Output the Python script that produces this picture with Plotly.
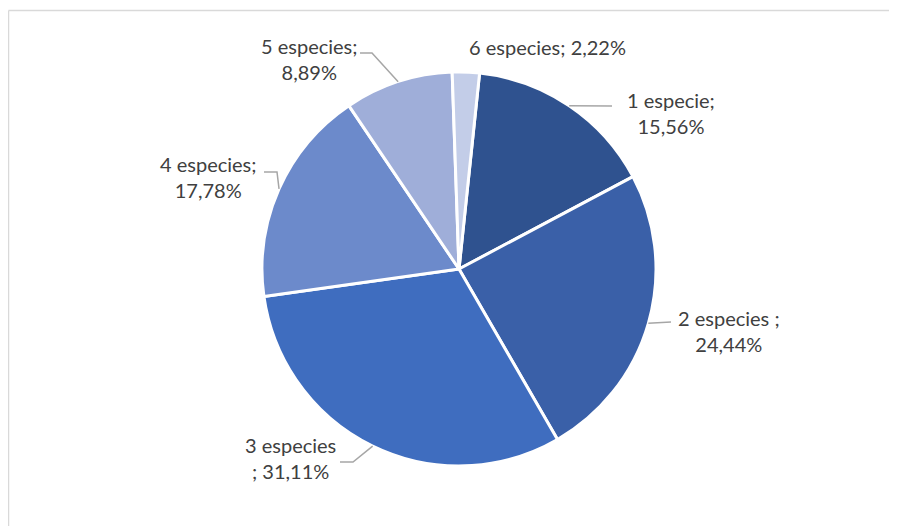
import math
import plotly.graph_objects as go

# ---- data ----
categories = ["1 especie", "2 especies", "3 especies", "4 especies", "5 especies", "6 especies"]
percentages = [15.56, 24.44, 31.11, 17.78, 8.89, 2.22]
label_texts = ["1 especie;<br>15,56%", "2 especies ;<br>24,44%", "3 especies<br>; 31,11%",
               "4 especies;<br>17,78%", "5 especies;<br>8,89%", "6 especies; 2,22%"]
colors = ["#2F528F", "#3A60A8", "#3F6DBF", "#6C8ACB", "#9FAED9", "#C3CDE8"]

# ---- layout ----
OFF = 8  # page body margin
W, H = 889, 518
CX, CY, R = 459 - OFF, 269 - OFF, 197
ROTATION = 6
# label block centres (screen pixels) and leader-line geometry (elbow, end) per slice
label_pos = [(671, 113), (729, 331), (290, 458), (208, 177), (309, 59), (547, 47)]
leader = [
    [(612, 106)],
    [(671, 322)],
    [(353, 462), (340, 462)],
    [(277, 172), (264, 172)],
    [(372, 53), (360, 53)],
    None,
]


def px(x, y):
    return x / W, (H - y) / H


def spx(x, y):
    return px(x - OFF, y - OFF)


fig = go.Figure(go.Pie(
    labels=categories,
    values=percentages,
    sort=False,
    direction="clockwise",
    rotation=ROTATION,
    marker=dict(colors=colors, line=dict(color="white", width=3)),
    textinfo="none",
    hoverinfo="label+percent",
    domain=dict(x=[(CX - R) / W, (CX + R) / W], y=[(H - CY - R) / H, (H - CY + R) / H]),
    showlegend=False,
))

shapes = []
annotations = []
total = sum(percentages)
cum = 0.0
for i, v in enumerate(percentages):
    mid = ROTATION + (cum + v / 2) / total * 360
    cum += v
    ex = CX + R * math.sin(math.radians(mid))
    ey = CY - R * math.cos(math.radians(mid))
    if leader[i]:
        pts = [px(ex, ey)] + [spx(x, y) for x, y in leader[i]]
        path = "M " + " L ".join("%f,%f" % p for p in pts)
        shapes.append(dict(type="path", xref="paper", yref="paper", path=path,
                           line=dict(color="#A6A6A6", width=1.5)))
    lx, ly = spx(*label_pos[i])
    annotations.append(dict(x=lx, y=ly, xref="paper", yref="paper", text=label_texts[i],
                            showarrow=False, xanchor="center", yanchor="middle", align="center",
                            font=dict(family="Lato", size=20, color="#404040")))

# chart border (top and left visible)
bx, by = spx(8.5, 10.5)
shapes.append(dict(type="line", xref="paper", yref="paper", x0=bx, y0=by,
                   x1=1.1, y1=by, line=dict(color="#D9D9D9", width=1.5)))
shapes.append(dict(type="line", xref="paper", yref="paper", x0=bx, y0=by,
                   x1=bx, y1=-0.1, line=dict(color="#D9D9D9", width=1.5)))

fig.update_layout(
    width=W, height=H,
    margin=dict(l=0, r=0, t=0, b=0),
    paper_bgcolor="white", plot_bgcolor="white",
    shapes=shapes, annotations=annotations,
)
fig.write_html("out.html")
